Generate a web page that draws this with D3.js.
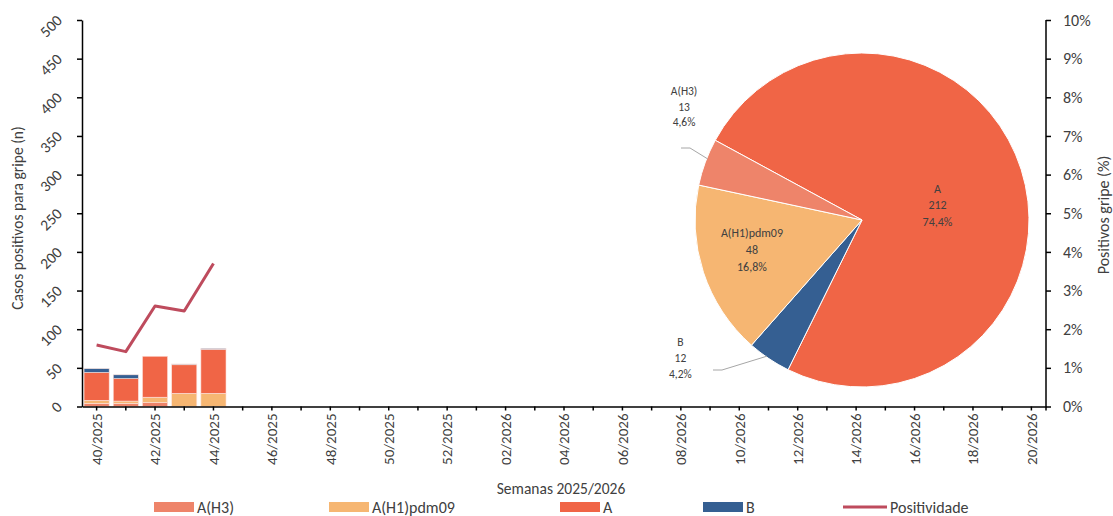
<!DOCTYPE html>
<html><head><meta charset="utf-8">
<script src="https://cdn.jsdelivr.net/npm/d3@7"></script>
<style>
body{margin:0;background:#fff;}
svg{display:block;font-family:Carlito,Calibri,Lato,"Open Sans",sans-serif;}
</style></head>
<body><svg id="c" width="1113" height="516"></svg>
<script>
// ---- data ----
const weeks = [];
for (let w = 40; w <= 52; w++) weeks.push(w + "/2025");
for (let w = 1; w <= 20; w++) weeks.push(String(w).padStart(2, "0") + "/2026");
const dataWeeks = ["40/2025","41/2025","42/2025","43/2025","44/2025"];
const seriesNames = ["A(H3)","A(H1)pdm09","A","B"];
const valH3 = [4, 4, 5, 0, 0];
const valH1 = [4, 3, 7, 17, 17];
const valA  = [36, 29, 53, 37, 57];
const valB  = [5, 5, 0, 1, 1];
const positividade = [0.0159, 0.0142, 0.0260, 0.0247, 0.0370];
const pieNames  = ["A","B","A(H1)pdm09","A(H3)"];
const pieValues = [212, 12, 48, 13];
const piePct    = ["74,4%","4,2%","16,8%","4,6%"];
const leftTicks  = [0,50,100,150,200,250,300,350,400,450,500];
const rightTicks = [0,0.01,0.02,0.03,0.04,0.05,0.06,0.07,0.08,0.09,0.10];

const colors = {"A(H3)":"#EE846A","A(H1)pdm09":"#F6B672","A":"#F06546","B":"#355F92"};
const lineColor = "#BE4B5D";
const textColor = "#404040";

const svg = d3.select("#c");
const L = 82, R = 1046, T = 20, B = 406.5;

const x = d3.scaleBand().domain(weeks).range([L, R]).paddingInner(0.14).paddingOuter(0.07);
const yL = d3.scaleLinear().domain([0, 500]).range([B, T]);
const yR = d3.scaleLinear().domain([0, 0.10]).range([B, T]);

// ---- stacked bars ----
const rows = dataWeeks.map((w, i) => ({week: w, "A(H3)": valH3[i], "A(H1)pdm09": valH1[i], "A": valA[i], "B": valB[i]}));
const stack = d3.stack().keys(seriesNames)(rows);
svg.append("g").selectAll("g").data(stack).join("g")
  .attr("fill", d => colors[d.key])
  .selectAll("rect").data(d => d).join("rect")
  .attr("x", d => x(d.data.week))
  .attr("width", x.bandwidth())
  .attr("y", d => yL(d[1]))
  .attr("height", d => yL(d[0]) - yL(d[1]))
  .attr("stroke", "#fde3dc").attr("stroke-width", 0.6);

// ---- line ----
const line = d3.line().x((d, i) => x(dataWeeks[i]) + x.bandwidth() / 2).y(d => yR(d));
svg.append("path").datum(positividade).attr("d", line)
  .attr("fill", "none").attr("stroke", lineColor).attr("stroke-width", 3).attr("stroke-linejoin", "round");

// ---- axes ----
const axL = svg.append("g").attr("transform", `translate(${L},0)`)
  .call(d3.axisLeft(yL).tickValues(leftTicks).tickSize(5).tickSizeOuter(0));
axL.selectAll("text").attr("x", 0).attr("dy", 0).attr("text-anchor", "end")
  .attr("transform", "translate(-19,1) rotate(-45)");

const axR = svg.append("g").attr("transform", `translate(${R},0)`)
  .call(d3.axisRight(yR).tickValues(rightTicks).tickSize(5).tickSizeOuter(0).tickFormat(d3.format(".0%")).tickPadding(12));
axR.select(".domain").attr("d", `M0,${T}V${B + 4}`);

const axB = svg.append("g").attr("transform", `translate(0,${B})`)
  .call(d3.axisBottom(x).tickSize(4).tickSizeOuter(0).tickFormat((d, i) => i % 2 === 0 ? d : ""));
axB.selectAll("text").attr("transform", "rotate(-90)").attr("x", -7).attr("y", 0).attr("dy", "0.35em").attr("text-anchor", "end");

[axL, axR, axB].forEach(a => {
  a.select(".domain").attr("stroke", "#000").attr("stroke-width", 1.5);
  a.selectAll(".tick line").attr("stroke", "#000").attr("stroke-width", 1.5);
  a.selectAll("text").attr("font-size", 15).attr("fill", textColor).attr("font-family", "Carlito,Calibri,Lato,sans-serif");
});
axL.selectAll("text").attr("font-size", 15.5);
axR.selectAll("text").attr("font-size", 16);

// ---- titles ----
svg.append("text").attr("transform", "translate(23,218) rotate(-90)").attr("text-anchor", "middle")
  .attr("font-size", 15.5).attr("fill", textColor).text("Casos positivos para gripe (n)");
svg.append("text").attr("transform", "translate(1109,215) rotate(-90)").attr("text-anchor", "middle")
  .attr("font-size", 16).attr("fill", textColor).text("Positivos gripe (%)");
svg.append("text").attr("x", 561).attr("y", 494).attr("text-anchor", "middle")
  .attr("font-size", 15.5).attr("fill", textColor).text("Semanas 2025/2026");

// ---- pie ----
const cx = 862, cy = 220, r = 167;
const start = 298.5 * Math.PI / 180;
const pie = d3.pie().sort(null).startAngle(start).endAngle(start + 2 * Math.PI)(pieValues);
const arc = d3.arc().innerRadius(0).outerRadius(r);
const gp = svg.append("g").attr("transform", `translate(${cx},${cy})`);
gp.selectAll("path").data(pie).join("path")
  .attr("d", arc).attr("fill", (d, i) => colors[pieNames[i]])
  .attr("stroke", "#fff").attr("stroke-width", 1);

// label placement (polar: angle in degrees clockwise from 12 o'clock, radius in px)
const labelPos = [
  {ang: 78.8, rad: 77, inside: true},
  {ang: 232.8, rad: 228, inside: false, lead: [214.9, [-140, 150], [-149, 150]]},
  {ang: 254.9, rad: 114, inside: true},
  {ang: 302.5, rad: 211, inside: false, lead: [291.6, [-172, -72], [-181, -72]]}
];
const polar = (a, rr) => [Math.sin(a * Math.PI / 180) * rr, -Math.cos(a * Math.PI / 180) * rr];
pie.forEach((d, i) => {
  const lp = labelPos[i];
  const [lx, ly] = polar(lp.ang, lp.rad);
  const fs = lp.inside ? 12 : 11.5;
  const sp = lp.inside ? 16.7 : 15.8;
  const t = gp.append("text").attr("text-anchor", "middle").attr("font-size", fs).attr("fill", textColor);
  [pieNames[i], String(pieValues[i]), piePct[i]].forEach((s, k) => {
    t.append("tspan").attr("x", lx).attr("y", ly + (k - 1) * sp).attr("dy", "0.35em").text(s);
  });
  if (lp.lead) {
    const p0 = polar(lp.lead[0], r - 1);
    gp.append("polyline").attr("points", [p0, lp.lead[1], lp.lead[2]].map(p => p.join(",")).join(" "))
      .attr("fill", "none").attr("stroke", "#a6a6a6").attr("stroke-width", 1);
  }
});

// ---- legend ----
const legend = [
  {name: "A(H3)", x: 154, type: "rect"},
  {name: "A(H1)pdm09", x: 329, type: "rect"},
  {name: "A", x: 560, type: "rect"},
  {name: "B", x: 703, type: "rect"},
  {name: "Positividade", x: 843, type: "line"}
];
const lg = svg.append("g");
legend.forEach(it => {
  if (it.type === "rect") {
    lg.append("rect").attr("x", it.x).attr("y", 502).attr("width", 40).attr("height", 10).attr("fill", colors[it.name]);
  } else {
    lg.append("line").attr("x1", it.x).attr("x2", it.x + 44).attr("y1", 507).attr("y2", 507)
      .attr("stroke", lineColor).attr("stroke-width", 3);
  }
  lg.append("text").attr("x", it.x + (it.type === "rect" ? 43 : 47)).attr("y", 507).attr("dy", "0.35em")
    .attr("font-size", 16).attr("fill", textColor).text(it.name);
});
</script></body></html>
